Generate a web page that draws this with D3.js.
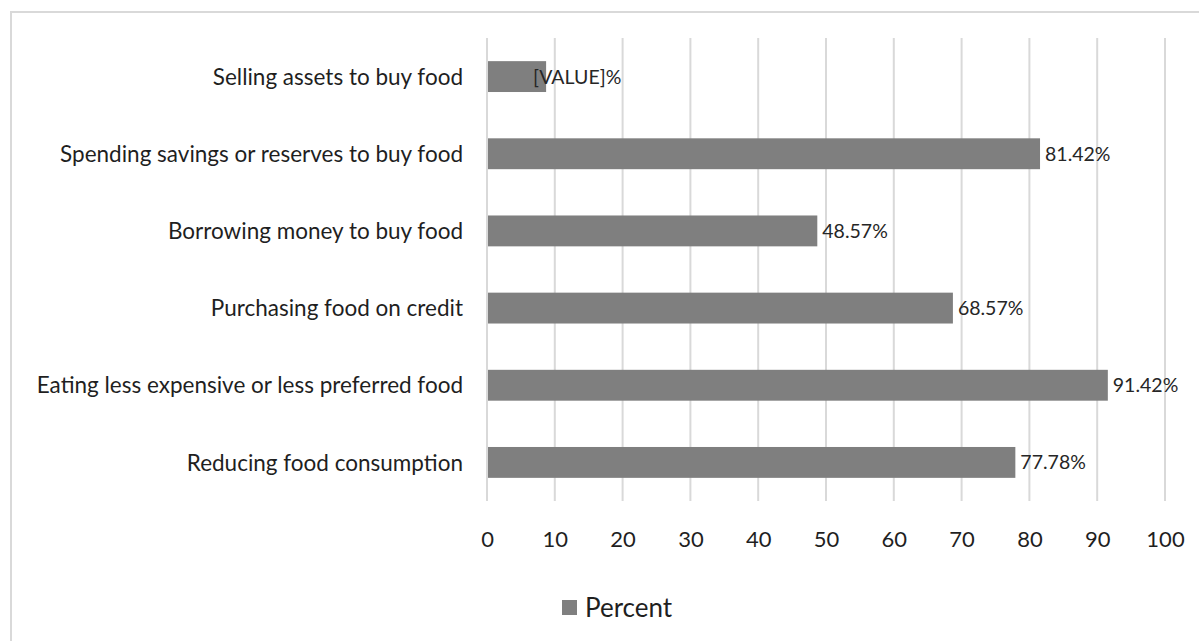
<!DOCTYPE html>
<html>
<head>
<meta charset="utf-8">
<script src="https://cdn.jsdelivr.net/npm/d3@7"></script>
<style>
  body { margin: 0; background: #fff; }
  svg { display: block; font-family: Lato, "Open Sans", sans-serif; }
</style>
</head>
<body>
<svg></svg>
<script>
const categories = [
  "Selling assets to buy food",
  "Spending savings or reserves to buy food",
  "Borrowing money to buy food",
  "Purchasing food on credit",
  "Eating less expensive or less preferred food",
  "Reducing food consumption"
];
const values = [8.57, 81.42, 48.57, 68.57, 91.42, 77.78];
const valueLabels = ["[VALUE]%", "81.42%", "48.57%", "68.57%", "91.42%", "77.78%"];
const xTicks = [0, 10, 20, 30, 40, 50, 60, 70, 80, 90, 100];
const seriesName = "Percent";

const width = 1199, height = 641;
const plotLeft = 487, plotRight = 1165, plotTop = 38, plotBottom = 501;

const svg = d3.select("svg").attr("width", width).attr("height", height);

// chart border
svg.append("rect")
  .attr("x", 11).attr("y", 12)
  .attr("width", 1200).attr("height", 700)
  .attr("fill", "none").attr("stroke", "#d9d9d9").attr("stroke-width", 2);

const x = d3.scaleLinear().domain([0, 100]).range([plotLeft, plotRight]);
const y = d3.scaleBand().domain(categories).range([plotTop, plotBottom]).paddingInner(0.6).paddingOuter(0.3);

// gridlines
svg.append("g")
  .selectAll("line")
  .data(xTicks)
  .join("line")
  .attr("x1", d => x(d)).attr("x2", d => x(d))
  .attr("y1", plotTop).attr("y2", plotBottom)
  .attr("stroke", "#d9d9d9").attr("stroke-width", 2);

// bars
svg.append("g")
  .selectAll("rect")
  .data(values)
  .join("rect")
  .attr("x", x(0) + 1)
  .attr("y", (d, i) => y(categories[i]))
  .attr("width", d => x(d) - x(0))
  .attr("height", y.bandwidth())
  .attr("fill", "#7f7f7f");

// value labels (first one overlaps its short bar, as in the source)
svg.append("g")
  .selectAll("text")
  .data(values)
  .join("text")
  .attr("x", (d, i) => i === 0 ? x(d) - 12 : x(d) + 6)
  .attr("y", (d, i) => y(categories[i]) + y.bandwidth() / 2)
  .attr("dy", "0.36em")
  .attr("font-size", 19.5)
  .attr("fill", "#262626")
  .text((d, i) => valueLabels[i]);

// category labels
svg.append("g")
  .selectAll("text")
  .data(categories)
  .join("text")
  .attr("x", 463)
  .attr("y", d => y(d) + y.bandwidth() / 2)
  .attr("dy", "0.36em")
  .attr("text-anchor", "end")
  .attr("font-size", 22.5)
  .attr("fill", "#1f1f1f")
  .text(d => d);

// x axis tick labels
const xAxis = d3.axisBottom(x).tickValues(xTicks).tickSize(0).tickPadding(0);
const ax = svg.append("g").attr("transform", "translate(0,531)").call(xAxis);
ax.select(".domain").remove();
ax.selectAll("text")
  .attr("font-size", 22)
  .attr("font-family", "Lato, 'Open Sans', sans-serif")
  .attr("fill", "#1f1f1f");

// legend
const lg = svg.append("g").attr("transform", "translate(562,600)");
lg.append("rect").attr("width", 15).attr("height", 15).attr("fill", "#7f7f7f");
lg.append("text")
  .attr("x", 23).attr("y", 7.5).attr("dy", "0.36em")
  .attr("font-size", 26).attr("fill", "#1f1f1f")
  .text(seriesName);
</script>
</body>
</html>
